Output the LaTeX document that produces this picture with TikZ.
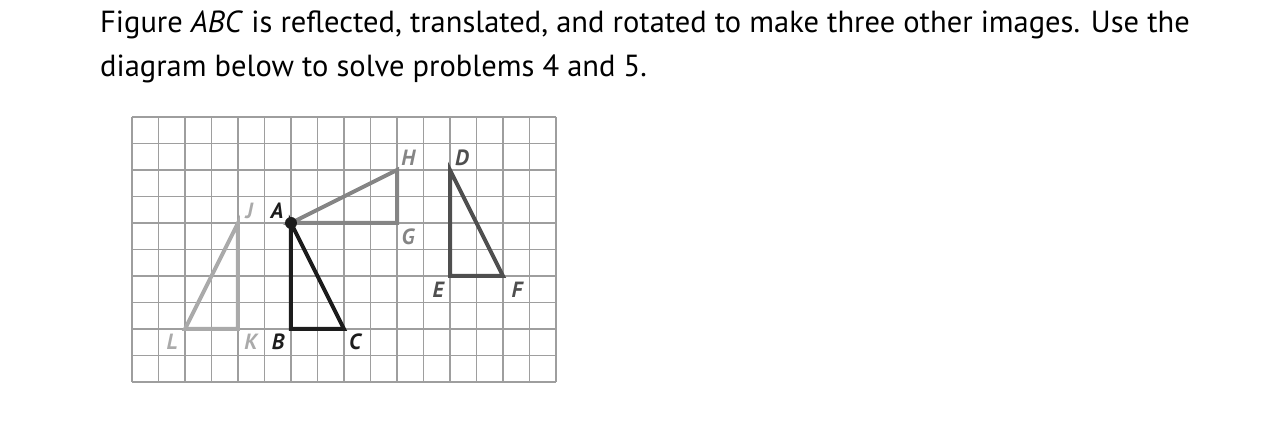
\documentclass[tikz,border=0pt]{standalone}
\usepackage{fontspec}
\setmainfont{PT Sans}[BoldFont={PT Sans Bold},ItalicFont={PT Sans Italic},BoldItalicFont={PT Sans Bold Italic}]
\usetikzlibrary{positioning,calc}
\definecolor{gridgray}{HTML}{9E9E9E}
\definecolor{lightfig}{HTML}{AAAAAA}
\definecolor{midfig}{HTML}{858585}
\definecolor{darkfig}{HTML}{4F4F4F}
\definecolor{mainfig}{HTML}{1C1C1C}

\begin{document}
\begin{tikzpicture}[x=26.5pt,y=26.5pt,
  gridline/.style={draw=gridgray,line width=1.2pt},
  figline/.style={line width=4pt,line join=miter},
  ptlabel/.style={font=\fontsize{22}{22}\selectfont\bfseries\itshape,inner sep=0pt},
  prose/.style={font=\fontsize{30.5}{44}\selectfont,anchor=base west,inner sep=0pt}]
  \useasboundingbox (-4.981,-1.547) rectangle (43.132,14.415);
  % question text
  \node[prose] (line1) at (-1.2075,13.17) {Figure \textit{ABC} is reflected, translated, and rotated to make three other images. Use the};
  \node[prose] (line2) at (-1.2075,11.51) {diagram below to solve problems 4 and 5.};
  % grid
  \foreach \i in {0,...,16} \draw[gridline] (\i,0) -- (\i,10);
  \foreach \j in {0,...,10} \draw[gridline] (0,\j) -- (16,\j);
  % vertices
  \coordinate (A) at (6,6);
  \coordinate (B) at (6,2);
  \coordinate (C) at (8,2);
  \coordinate (D) at (12,8);
  \coordinate (E) at (12,4);
  \coordinate (F) at (14,4);
  \coordinate (G) at (10,6);
  \coordinate (H) at (10,8);
  \coordinate (J) at (4,6);
  \coordinate (K) at (4,2);
  \coordinate (L) at (2,2);
  % images
  \draw[figline,lightfig] (J) -- (K) -- (L) -- cycle;
  \draw[figline,midfig] (A) -- (G) -- (H) -- cycle;
  \draw[figline,darkfig] (D) -- (E) -- (F) -- cycle;
  \draw[figline,mainfig] (A) -- (B) -- (C) -- cycle;
  \fill[mainfig] (A) circle (6pt);
  % labels
  \node[ptlabel,mainfig] (lA) at ($(A)+(-0.53,0.45)$) {A};
  \node[ptlabel,mainfig] (lB) at ($(B)+(-0.49,-0.49)$) {B};
  \node[ptlabel,mainfig] (lC) at ($(C)+(0.42,-0.49)$) {C};
  \node[ptlabel,darkfig] (lD) at ($(D)+(0.45,0.45)$) {D};
  \node[ptlabel,darkfig] (lE) at ($(E)+(-0.45,-0.53)$) {E};
  \node[ptlabel,darkfig] (lF) at ($(F)+(0.53,-0.53)$) {F};
  \node[ptlabel,midfig] (lG) at ($(G)+(0.42,-0.53)$) {G};
  \node[ptlabel,midfig] (lH) at ($(H)+(0.42,0.45)$) {H};
  \node[ptlabel,lightfig] (lJ) at ($(J)+(0.42,0.45)$) {J};
  \node[ptlabel,lightfig] (lK) at ($(K)+(0.49,-0.49)$) {K};
  \node[ptlabel,lightfig] (lL) at ($(L)+(-0.49,-0.49)$) {L};
\end{tikzpicture}
\end{document}
